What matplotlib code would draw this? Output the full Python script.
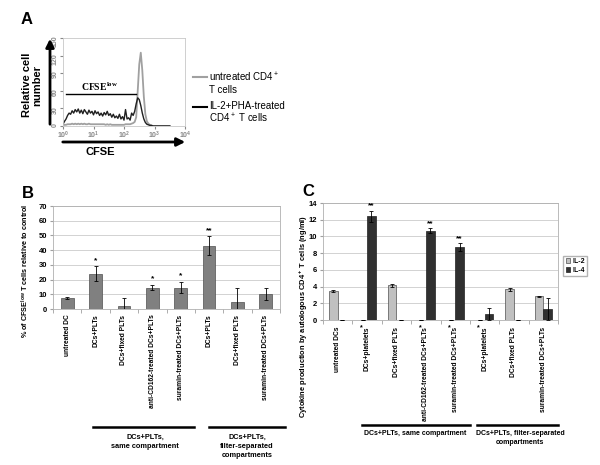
import matplotlib
matplotlib.use("Agg")
import matplotlib.pyplot as plt
import matplotlib.transforms as mtransforms
from matplotlib.patches import FancyArrowPatch, Patch
from matplotlib.lines import Line2D
import numpy as np

plt.rcParams['font.family'] = ['Liberation Sans', 'DejaVu Sans']
plt.rcParams['font.weight'] = 'bold'
plt.rcParams['mathtext.default'] = 'regular'

W, H = 600.0, 465.0

# ---- panel A: CFSE histogram (log10 decade positions, step 0.05) ----
cfse_decade = [i * 0.05 for i in range(0, 71)]
treated_counts = [3, 8, 12, 18, 22, 20, 26, 22, 28, 24,
                  29, 22, 27, 21, 28, 24, 20, 27, 22, 25,
                  19, 26, 21, 24, 18, 22, 17, 23, 19, 25,
                  18, 21, 15, 20, 14, 17, 13, 20, 12, 16,
                  10, 28, 12, 14, 10, 22, 18, 25, 38, 48,
                  45, 35, 22, 12, 6, 3, 2, 1, 1, 0,
                  0, 0, 0, 0, 0, 0, 0, 0, 0, 0, 0]
untreated_counts = [1, 2, 2, 3, 3, 3, 4, 3, 4, 3,
                    4, 3, 4, 3, 4, 3, 3, 4, 3, 3,
                    3, 3, 3, 3, 3, 3, 3, 3, 2, 3,
                    2, 3, 2, 2, 2, 2, 2, 2, 2, 2,
                    2, 3, 3, 3, 3, 4, 5, 7, 15, 60,
                    105, 125, 95, 50, 20, 8, 4, 2, 1, 0,
                    0, 0, 0, 0, 0, 0, 0, 0, 0, 0, 0]
cfse_low_range = [0.1, 2.4]
cfse_low_level = 54

# ---- panel B ----
b_labels = ["untreated DC", "DCs+PLTs", "DCs+fixed PLTs", "anti-CD162-treated DCs+PLTs",
            "suramin-treated DCs+PLTs", "DCs+PLTs", "DCs+fixed PLTs", "suramin-treated DCs+PLTs"]
b_values = [7.4, 24.1, 2.2, 14.6, 14.6, 43.0, 4.7, 10.1]
b_err = [0.8, 5.0, 5.2, 1.8, 3.9, 6.3, 9.5, 4.1]
b_stars = ["", "*", "", "*", "*", "**", "", ""]

# ---- panel C ----
c_labels = ["untreated DCs", "DCs+platelets", "DCs+fixed PLTs", "anti-CD162-treated DCs+PLTs",
            "suramin-treated DCs+PLTs", "DCs+platelets", "DCs+fixed PLTs", "suramin-treated DCs+PLTs"]
c_label_stars = [False, True, False, True, True, True, False, False]
il2 = [3.44, 0, 4.16, 0, 0, 0, 3.68, 2.84]
il2_err = [0.1, 0, 0.2, 0, 0, 0, 0.2, 0.08]
il4 = [0, 12.4, 0, 10.68, 8.72, 0.68, 0, 1.32]
il4_err = [0, 0.7, 0, 0.32, 0.5, 0.72, 0, 1.28]
c_stars = ["", "**", "", "**", "**", "", "", ""]


def fx(x):
    return x / W


def fy(y):
    return 1 - y / H


def box(l, t, r, b):
    return [fx(l), fy(b), (r - l) / W, (b - t) / H]


fig = plt.figure(figsize=(6, 4.65), dpi=100)

# ================= A =================
axA = fig.add_axes(box(63, 38, 185, 126))
xs = [10 ** d for d in cfse_decade]
axA.plot(xs, untreated_counts, color='#a0a0a0', lw=1.3)
axA.plot(xs, treated_counts, color='#202020', lw=1.0)
axA.set_xscale('log')
axA.set_xlim(1, 1e4)
axA.set_ylim(0, 150)
axA.set_yticks([0, 30, 60, 90, 120, 150])
axA.tick_params(axis='y', labelsize=5, labelcolor='#888888', rotation=90, length=2, color='#888888', pad=1)
axA.tick_params(axis='x', which='major', labelsize=5, labelcolor='#888888', length=2, color='#888888', pad=1)
axA.tick_params(axis='x', which='minor', length=0)
for s in axA.spines.values():
    s.set_color('#c8c8c8')
    s.set_linewidth(0.6)
axA.plot([10 ** cfse_low_range[0], 10 ** cfse_low_range[1]], [cfse_low_level, cfse_low_level], color='black', lw=1.0)
axA.text(10 ** 1.2, cfse_low_level + 3, "CFSE$^{low}$", family='Liberation Serif', fontsize=7,
         fontweight='bold', ha='center', va='bottom')

fig.patches.append(FancyArrowPatch((fx(50), fy(127)), (fx(50), fy(36)), transform=fig.transFigure,
                                   arrowstyle='-|>', mutation_scale=12, color='black', lw=2))
fig.patches.append(FancyArrowPatch((fx(60), fy(142)), (fx(188), fy(142)), transform=fig.transFigure,
                                   arrowstyle='-|>', mutation_scale=12, color='black', lw=2))
fig.text(fx(21), fy(20), "A", fontsize=12, fontweight='bold', va='center')
fig.text(fx(32), fy(85), "Relative cell\nnumber", fontsize=8, fontweight='bold', rotation=90,
         ha='center', va='center', linespacing=1.0)
fig.text(fx(100), fy(152), "CFSE", fontsize=8, fontweight='bold', ha='center', va='center')

fig.add_artist(Line2D([fx(193), fx(207)], [fy(77), fy(77)], color='#a0a0a0', lw=1.5))
fig.text(fx(209), fy(71), "untreated CD4$^+$\nT cells", fontsize=7, fontweight='normal', va='top',
         ha='left', linespacing=1.1)
fig.add_artist(Line2D([fx(193), fx(207)], [fy(107), fy(107)], color='black', lw=1.5))
fig.text(fx(209), fy(101), "IL-2+PHA-treated\nCD4$^+$ T cells", fontsize=7, fontweight='normal',
         va='top', ha='left', linespacing=1.1)

# ================= B =================
axB = fig.add_axes(box(53, 206, 280, 309))
pos = np.arange(len(b_values))
axB.bar(pos, b_values, 0.45, color='#808080', edgecolor='#505050', lw=0.5, zorder=2)
axB.errorbar(pos, b_values, yerr=b_err, fmt='none', ecolor='black', elinewidth=0.6, capsize=1.5,
             capthick=0.6, zorder=3)
for i in range(len(b_values)):
    if b_stars[i]:
        axB.text(pos[i], b_values[i] + b_err[i] + 1.5, b_stars[i], ha='center', va='bottom', fontsize=6)
axB.set_xlim(-0.5, len(b_values) - 0.5)
axB.set_ylim(0, 70)
axB.set_yticks(range(0, 71, 10))
axB.yaxis.grid(True, color='#c0c0c0', lw=0.5)
axB.set_axisbelow(True)
axB.set_xticks(pos)
axB.set_xticklabels(b_labels, rotation=90, fontsize=4.8, va='top', ha='center')
axB.set_xticks(np.arange(-0.5, len(b_values), 1), minor=True)
axB.tick_params(axis='x', which='major', length=0, pad=4)
axB.tick_params(axis='x', which='minor', length=3, color='#a0a0a0')
axB.tick_params(axis='y', labelsize=5.5, length=2, color='#a0a0a0', pad=2)
for s in axB.spines.values():
    s.set_color('#b0b0b0')
    s.set_linewidth(0.6)
fig.text(fx(28), fy(193), "B", fontsize=12, fontweight='bold', ha='center', va='center')
fig.text(fx(25), fy(271), "% of CFSE$^{low}$ T cells relative to control", rotation=90, fontsize=5.2,
         ha='center', va='center')

fig.add_artist(Line2D([fx(93), fx(194)], [fy(427), fy(427)], color='black', lw=1.8))
fig.add_artist(Line2D([fx(209), fx(285)], [fy(427), fy(427)], color='black', lw=1.8))
fig.text(fx(145), fy(434), "DCs+PLTs,\nsame compartment", fontsize=5.3, ha='center', va='top',
         linespacing=1.4)
fig.text(fx(247), fy(434), "DCs+PLTs,\nfilter-separated\ncompartments", fontsize=5.3, ha='center',
         va='top', linespacing=1.4)

# ================= C =================
axC = fig.add_axes(box(323, 203, 558, 320))
pos = np.arange(len(il2))
axC.bar(pos - 0.15, il2, 0.3, color='#c0c0c0', edgecolor='#505050', lw=0.5, zorder=2, label='IL-2')
axC.bar(pos + 0.15, il4, 0.3, color='#303030', edgecolor='#202020', lw=0.5, zorder=2, label='IL-4')
axC.errorbar(pos - 0.15, il2, yerr=il2_err, fmt='none', ecolor='black', elinewidth=0.6, capsize=1.5,
             capthick=0.6, zorder=3)
axC.errorbar(pos + 0.15, il4, yerr=il4_err, fmt='none', ecolor='black', elinewidth=0.6, capsize=1.5,
             capthick=0.6, zorder=3)
for i in range(len(il4)):
    if c_stars[i]:
        axC.text(pos[i] + 0.15, il4[i] + il4_err[i] + 0.1, c_stars[i], ha='center', va='bottom', fontsize=6)
axC.set_xlim(-0.5, len(il2) - 0.5)
axC.set_ylim(0, 14)
axC.set_yticks(range(0, 15, 2))
axC.yaxis.grid(True, color='#c0c0c0', lw=0.5)
axC.set_axisbelow(True)
axC.set_xticks(pos)
axC.set_xticklabels(c_labels, rotation=90, fontsize=4.8, va='top', ha='center')
axC.set_xticks(np.arange(-0.5, len(il2), 1), minor=True)
axC.tick_params(axis='x', which='major', length=0, pad=5)
axC.tick_params(axis='x', which='minor', length=3, color='#a0a0a0')
axC.tick_params(axis='y', labelsize=5.5, length=2, color='#a0a0a0', pad=2)
for s in axC.spines.values():
    s.set_color('#b0b0b0')
    s.set_linewidth(0.6)
# superscript asterisks at the top end of the rotated tick labels
trans = mtransforms.blended_transform_factory(axC.transData, axC.transAxes)
for i in range(len(c_labels)):
    if c_label_stars[i]:
        axC.text(pos[i] - 0.2, -0.035, "*", transform=trans, fontsize=5, ha='center', va='top')
fig.text(fx(28 + 280), fy(191), "C", fontsize=12, fontweight='bold', ha='center', va='center')
fig.text(fx(304), fy(316), "Cytokine production by autologous CD4$^+$ T cells (ng/ml)", rotation=90,
         fontsize=5.4, ha='center', va='center')
fig.legend(handles=[Patch(facecolor='#c0c0c0', edgecolor='#505050', lw=0.5, label='IL-2'),
                    Patch(facecolor='#303030', edgecolor='#202020', lw=0.5, label='IL-4')],
           loc='center left', bbox_to_anchor=(fx(560), fy(266)), fontsize=5, frameon=True,
           fancybox=False, edgecolor='#a0a0a0', handlelength=0.7, handleheight=0.7,
           handletextpad=0.3, borderpad=0.3, labelspacing=0.2)

fig.add_artist(Line2D([fx(362), fx(470)], [fy(425), fy(425)], color='black', lw=1.8))
fig.add_artist(Line2D([fx(477), fx(558)], [fy(425), fy(425)], color='black', lw=1.8))
fig.text(fx(415), fy(430), "DCs+PLTs, same compartment", fontsize=5, ha='center', va='top')
fig.text(fx(520), fy(430), "DCs+PLTs, filter-separated\ncompartments", fontsize=5, ha='center',
         va='top', linespacing=1.4)

fig.savefig("out.png", dpi=100)
